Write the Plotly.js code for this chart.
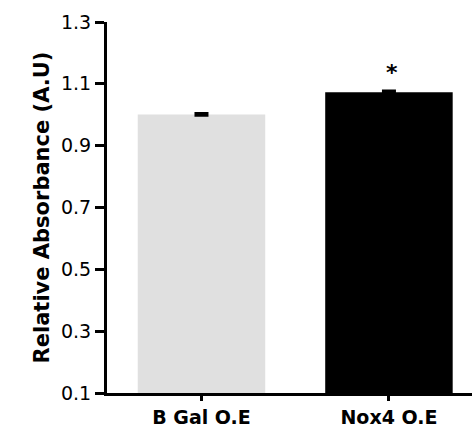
<!DOCTYPE html>
<html>
<head>
<meta charset="utf-8">
<script src="https://cdn.plot.ly/plotly-3.0.1.min.js"></script>
<style>html,body{margin:0;padding:0;background:#fff;}#chart{width:472px;height:441px;}</style>
</head>
<body>
<div id="chart"></div>
<script>
var categories = ["B Gal O.E", "Nox4 O.E"];
var values = [1.001, 1.073];
var errors = [0.003, 0.004];
var barColors = ["#e0e0e0", "#000000"];
var significance = ["", "*"];
var yTickVals = [0.1, 0.3, 0.5, 0.7, 0.9, 1.1, 1.3];
var yTickText = ["0.1", "0.3", "0.5", "0.7", "0.9", "1.1", "1.3"];

var trace = {
  type: "bar",
  x: categories,
  y: values,
  width: 0.68,
  marker: {color: barColors, line: {width: 0}},
  error_y: {type: "data", array: errors, visible: true, color: "#000", thickness: 3, width: 7}
};

var annotations = [];
for (var i = 0; i < categories.length; i++) {
  if (significance[i]) {
    annotations.push({
      x: categories[i], y: values[i] + errors[i], xref: "x", yref: "y",
      text: "<b>" + significance[i] + "</b>", showarrow: false,
      yanchor: "bottom", xshift: 3, yshift: 4,
      font: {family: "DejaVu Sans", size: 22, color: "#000"}
    });
  }
}

var layout = {
  width: 472, height: 441,
  margin: {l: 107, r: 0, t: 22, b: 48},
  paper_bgcolor: "#fff", plot_bgcolor: "#fff",
  showlegend: false,
  font: {family: "DejaVu Sans", color: "#000"},
  xaxis: {
    type: "category",
    range: [-0.504, 1.443],
    showline: true, linecolor: "#000000", linewidth: 3,
    ticks: "outside", ticklen: 5, tickwidth: 3, tickcolor: "#000000",
    tickfont: {family: "DejaVu Sans", size: 19, color: "#000", weight: "bold"},
    showgrid: false, zeroline: false, fixedrange: true
  },
  yaxis: {
    range: [0.1, 1.3],
    tickvals: yTickVals, ticktext: yTickText,
    showline: true, linecolor: "#000000", linewidth: 3,
    ticks: "outside", ticklen: 9, tickwidth: 3, tickcolor: "#000000",
    tickfont: {family: "DejaVu Sans", size: 19, color: "#000"},
    showgrid: false, zeroline: false, fixedrange: true,
    title: {text: "Relative Absorbance (A.U)", standoff: 6,
            font: {family: "DejaVu Sans", size: 21, color: "#000", weight: "bold"}}
  },
  annotations: annotations
};

Plotly.newPlot("chart", [trace], layout, {displayModeBar: false});
</script>
</body>
</html>
